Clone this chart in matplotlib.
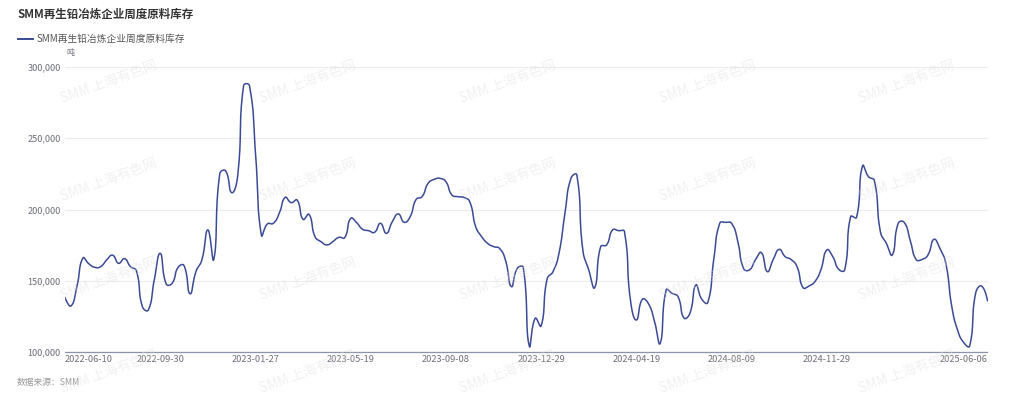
import numpy as np
import pandas as pd
import matplotlib
matplotlib.use('Agg')
import matplotlib.pyplot as plt

plt.rcParams['font.family'] = ['Noto Sans CJK SC', 'DejaVu Sans']

# weekly dates, 2023-01-20 (spring festival week) has no value
dates = pd.date_range('2022-06-10', '2025-06-06', freq='7D')
dates = dates[dates != pd.Timestamp('2023-01-20')]

# SMM secondary lead smelters, weekly raw material inventory (tonnes)
inventory = [
    138300, 132400, 146000, 166000, 162000, 159500, 160000, 164700, 168000, 162300,
    165600, 160000, 157000, 132000, 129600, 150700, 169300, 147900, 148300, 159500,
    160700, 141000, 156500, 164700, 185700, 165000, 225000, 227000, 211800, 223000,
    286700, 286700, 240000, 182000, 189900, 190300, 197300, 208500, 204800, 206600,
    193100, 196600, 181000, 177500, 175200, 177500, 180500, 180300, 193800, 190800,
    186100, 185200, 184000, 190300, 183300, 191500, 196900, 191000, 195000, 207100,
    209000, 218300, 221100, 221800, 219500, 210200, 209000, 208500, 205500, 188000,
    181000, 176300, 174000, 172800, 164700, 146000, 158800, 159300, 104400, 123800,
    118400, 151300, 156500, 169300, 197300, 221800, 224200, 171700, 157700, 145300,
    174000, 175200, 185700, 185200, 184500, 136600, 122600, 137100, 134300, 122600,
    106300, 143600, 141300, 139000, 124000, 127300, 147100, 137100, 134800, 164700,
    190300, 191000, 190300, 178700, 158800, 157700, 164700, 169800, 156500, 165000,
    172100, 167000, 165000, 160000, 145300, 146400, 149500, 157700, 171700, 167000,
    158100, 157700, 195000, 194500, 230500, 223000, 220200, 184500, 176300, 168200,
    190300, 191000, 178700, 165000, 165000, 168200, 179100, 172800, 162300, 132000,
    115200, 106800, 104400, 141300, 146400, 136200,
]

title = 'SMM再生铅冶炼企业周度原料库存'
unit = '吨'
source = '数据来源：SMM'
watermark = 'SMM 上海有色网'
line_color = '#3b4a94'

W, H = 1024, 399
left, right, top, bottom = 65, 987.5, 66.7, 352.3
ymin, ymax = 100000, 300000


def smooth_line(x, y, sx, sy, smooth=0.5, steps=16):
    # echarts-like bezier smoothing, control points computed in pixel space
    px = np.asarray(x, float) * sx
    py = np.asarray(y, float) * sy
    n = len(px)
    cin = np.zeros((n, 2))
    cout = np.zeros((n, 2))
    for i in range(n):
        if i == 0 or i == n - 1:
            cin[i] = cout[i] = px[i], py[i]
            continue
        vx, vy = px[i + 1] - px[i - 1], py[i + 1] - py[i - 1]
        l0 = np.hypot(px[i] - px[i - 1], py[i] - py[i - 1])
        l1 = np.hypot(px[i + 1] - px[i], py[i + 1] - py[i])
        r = l1 / (l0 + l1) if l0 + l1 else 0.5
        cin[i] = px[i] - vx * smooth * (1 - r), py[i] - vy * smooth * (1 - r)
        cout[i] = px[i] + vx * smooth * r, py[i] + vy * smooth * r
    t = np.linspace(0, 1, steps, endpoint=False)[:, None]
    segs = []
    for i in range(n - 1):
        p0 = np.array([px[i], py[i]])
        p3 = np.array([px[i + 1], py[i + 1]])
        b = ((1 - t) ** 3) * p0 + 3 * ((1 - t) ** 2) * t * cout[i] \
            + 3 * (1 - t) * t ** 2 * cin[i + 1] + t ** 3 * p3
        segs.append(b)
    segs.append(np.array([[px[-1], py[-1]]]))
    pts = np.vstack(segs)
    return pts[:, 0] / sx, pts[:, 1] / sy


fig = plt.figure(figsize=(W / 100, H / 100), dpi=100)
ax = fig.add_axes([left / W, 1 - bottom / H, (right - left) / W, (bottom - top) / H])

xi = np.arange(len(inventory))
sx = (right - left) / (len(inventory) - 1)
sy = (bottom - top) / (ymax - ymin)
cx, cy = smooth_line(xi, inventory, sx, sy)
ax.plot(cx, cy, color=line_color, lw=1.1, solid_joinstyle='round', zorder=3)

ax.set_xlim(0, len(inventory) - 1)
ax.set_ylim(ymin, ymax)

yt = np.arange(ymin, ymax + 1, 50000)
ax.set_yticks(yt)
ax.set_yticklabels([f'{v:,}' for v in yt], fontsize=6.6, color='#6e7079')
ax.grid(axis='y', color='#ececec', lw=0.8)
ax.set_axisbelow(True)

tick_idx = list(range(0, len(dates) - 20, 16)) + [len(dates) - 1]
ax.set_xticks(tick_idx)
labs = ax.set_xticklabels([dates[i].strftime('%Y-%m-%d') for i in tick_idx],
                          fontsize=6.7, color='#6e7079')
labs[0].set_ha('left')
labs[-1].set_ha('right')
ax.tick_params(axis='both', length=0, pad=3)
ax.tick_params(axis='x', pad=2)
for s in ['top', 'right', 'left']:
    ax.spines[s].set_visible(False)
ax.spines['bottom'].set_color('#8d93ab')
ax.spines['bottom'].set_linewidth(0.9)

# titles, legend, unit, source
fig.text(17 / W, 1 - 14 / H, title, fontsize=8.3, fontweight='bold', color='#333333',
         va='center', ha='left')
fig.add_artist(plt.Line2D([18 / W, 33 / W], [1 - 39 / H] * 2, color=line_color, lw=1.4))
fig.text(37 / W, 1 - 39 / H, title, fontsize=7, color='#555555', va='center', ha='left')
fig.text(66 / W, 1 - 53 / H, unit, fontsize=5.8, color='#6e7079', va='center', ha='left')
fig.text(17 / W, 1 - 382 / H, source, fontsize=6.3, color='#999999', style='italic',
         va='center', ha='left')

# watermark grid
for wy in [82, 180, 279, 372]:
    for wx in [109, 308, 508, 708, 907]:
        fig.text(wx / W, 1 - wy / H, watermark, fontsize=9.8, color='#dcdcdc', alpha=0.4,
                 rotation=20, ha='center', va='center', zorder=5)

fig.savefig('out.png', dpi=100)
